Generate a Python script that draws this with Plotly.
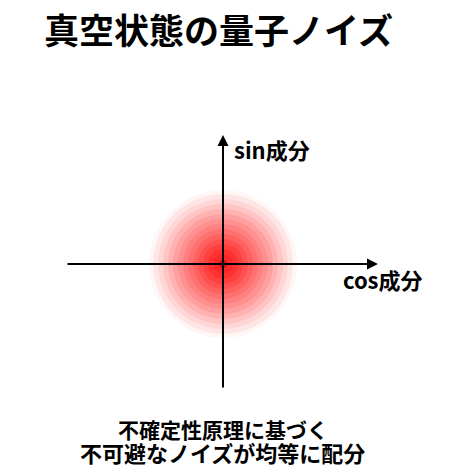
import plotly.graph_objects as go

# quadrature axes (units: 1 = 100 px), origin = vacuum state
cos_axis = [-1.57, 1.55]
sin_axis = [-1.25, 1.29]

# noise blob rings: radius and green/blue level of the red
ring_radius = [0.74, 0.70, 0.65, 0.60, 0.55, 0.50, 0.45, 0.40, 0.35, 0.30, 0.25, 0.20, 0.15, 0.10, 0.04]
ring_level = [246, 230, 214, 196, 178, 160, 144, 128, 112, 96, 80, 64, 50, 40, 24]
ring_red = [255, 255, 255, 255, 255, 255, 255, 255, 255, 255, 255, 255, 255, 250, 190]

title = "真空状態の量子ノイズ"
x_label = "cos成分"
y_label = "sin成分"
caption = ["不確定性原理に基づく", "不可避なノイズが均等に配分"]

font = "Noto Sans CJK JP"

fig = go.Figure()
fig.add_trace(go.Scatter(x=[0], y=[0], mode="markers", marker=dict(size=1, opacity=0),
                         hoverinfo="skip", showlegend=False))

for r, g, red in zip(ring_radius, ring_level, ring_red):
    fig.add_shape(type="circle", xref="x", yref="y", x0=-r, x1=r, y0=-r, y1=r,
                  line=dict(width=0), fillcolor=f"rgb({red},{g},{g})", layer="below")

# axes with arrows
fig.add_annotation(x=cos_axis[1], y=0, ax=cos_axis[0], ay=0, xref="x", yref="y",
                   axref="x", ayref="y", showarrow=True, arrowhead=2, arrowsize=1.1,
                   arrowwidth=2, arrowcolor="black", text="")
fig.add_annotation(x=0, y=sin_axis[1], ax=0, ay=sin_axis[0], xref="x", yref="y",
                   axref="x", ayref="y", showarrow=True, arrowhead=2, arrowsize=1.1,
                   arrowwidth=2, arrowcolor="black", text="")

fig.add_annotation(x=0.09, y=1.15, text=y_label, showarrow=False, xanchor="left",
                   yanchor="middle", font=dict(size=22, family=font, color="black", weight="bold"))
fig.add_annotation(x=1.18, y=-0.15, text=x_label, showarrow=False, xanchor="left",
                   yanchor="middle", font=dict(size=22, family=font, color="black", weight="bold"))

fig.add_annotation(x=-0.05, y=2.36, text=title, showarrow=False, xanchor="center",
                   yanchor="middle", font=dict(size=35, family=font, color="black", weight="bold"))
fig.add_annotation(x=-0.005, y=-1.645, text=caption[0], showarrow=False, xanchor="center",
                   yanchor="middle", font=dict(size=21, family=font, color="black", weight="bold"))
fig.add_annotation(x=-0.005, y=-1.875, text=caption[1], showarrow=False, xanchor="center",
                   yanchor="middle", font=dict(size=22, family=font, color="black", weight="bold"))

# page has an 8 px body margin, so the figure is 454x458 and the origin sits at (215, 256)
fig.update_xaxes(range=[-2.15, 2.39], visible=False, fixedrange=True)
fig.update_yaxes(range=[-2.02, 2.56], visible=False, fixedrange=True)
fig.update_layout(width=454, height=458, margin=dict(l=0, r=0, t=0, b=0),
                  plot_bgcolor="white", paper_bgcolor="white", showlegend=False)

fig.write_html("out.html")
